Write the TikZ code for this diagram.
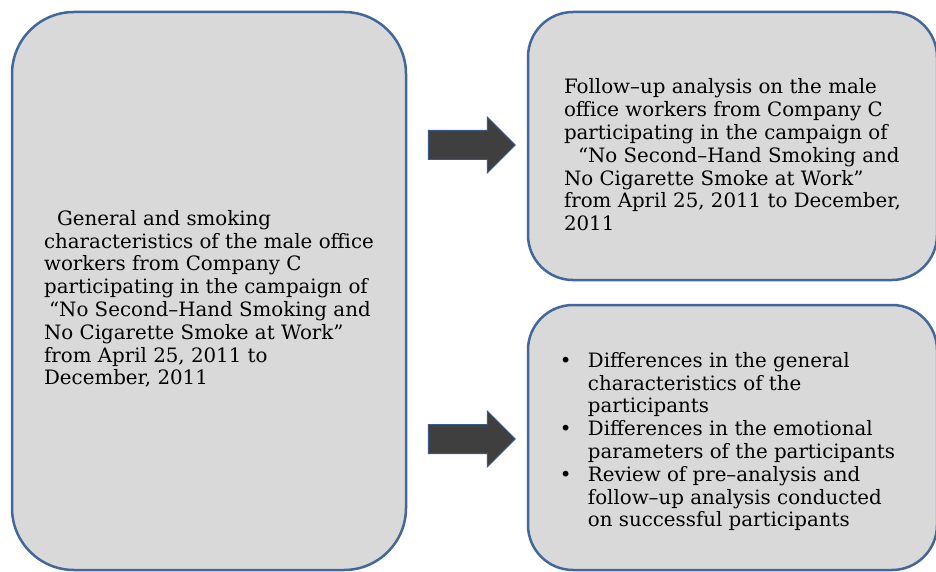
\documentclass[tikz,border=0pt]{standalone}
\usepackage{fontspec}
\setmainfont{DejaVu Serif}
\usetikzlibrary{shapes.arrows,positioning}
\definecolor{panelfill}{HTML}{D9D9D9}
\definecolor{panelline}{HTML}{43679A}
\definecolor{arrowfill}{HTML}{3F3F3F}
\definecolor{arrowline}{HTML}{3A5A88}

\begin{document}
\begin{tikzpicture}[x=1pt, y=-1pt,
  every node/.style={font=\fontsize{19.8}{22.8}\selectfont},
  panel/.style={draw=panelline, line width=2.5pt, fill=panelfill, inner sep=0pt},
  paneltext/.style={align=left, inner sep=0pt},
  bigarrow/.style={single arrow, draw=arrowline, line width=1pt, fill=arrowfill,
    minimum height=87pt, inner xsep=0pt, inner ysep=14pt, single arrow head extend=13.5pt}]
\clip (0,0) rectangle (936,572);

% the three panels
\node (general) [panel, rounded corners=62pt, minimum width=394pt, minimum height=558pt] at (209,291) {};
\node (followup) [panel, rounded corners=45pt, minimum width=409pt, minimum height=268pt] at (732.5,146) {};
\node (results) [panel, rounded corners=45pt, minimum width=409pt, minimum height=265pt] at (732.5,437.5) {};

% panel texts
\node (generalText) [paneltext, yshift=-8pt] at (general.center)
  {\hspace*{13pt}General and smoking\\
   characteristics of the male office\\
   workers from Company C\\
   participating in the campaign of\\
   \hspace*{5pt}“No Second--Hand Smoking and\\
   No Cigarette Smoke at Work”\\
   from April 25, 2011 to\\
   December, 2011};
\node (followupText) [paneltext, yshift=-9pt] at (followup.center)
  {Follow--up analysis on the male\\
   office workers from Company C\\
   participating in the campaign of\\
   \hspace*{14pt}“No Second--Hand Smoking and\\
   No Cigarette Smoke at Work”\\
   from April 25, 2011 to December,\\
   2011};
\node (resultsText) [paneltext, xshift=-5pt, yshift=-5pt] at (results.center)
  {\begin{tabular}{@{}p{28pt}@{}l@{}}
   \textbullet & Differences in the general\\
               & characteristics of the\\
               & participants\\
   \textbullet & Differences in the emotional\\
               & parameters of the participants\\
   \textbullet & Review of pre--analysis and\\
               & follow--up analysis conducted\\
               & on successful participants
   \end{tabular}};

% block arrows
\node (toFollowup) [bigarrow] at (464.5,145) {};
\node (toResults) [bigarrow] at (464.5,439) {};
\end{tikzpicture}
\end{document}
